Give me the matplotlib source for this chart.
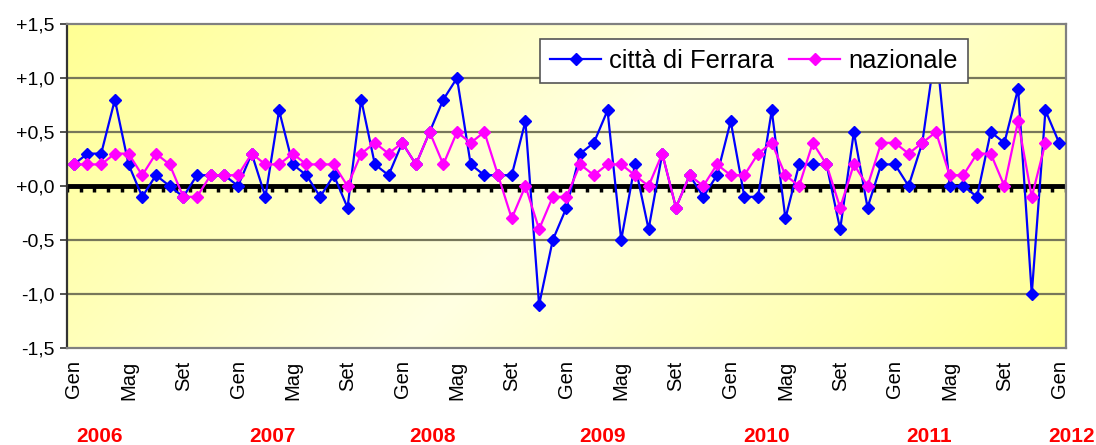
import numpy as np
import matplotlib.pyplot as plt
from matplotlib.colors import LinearSegmentedColormap
import matplotlib.transforms as mtransforms

plt.rcParams['font.family'] = ['Liberation Sans', 'DejaVu Sans']

# --- dati: variazione congiunturale mensile, Gen 2006 - Gen 2012 ---
ferrara = [0.2, 0.3, 0.3, 0.8, 0.2, -0.1, 0.1, 0.0, -0.1, 0.1, 0.1, 0.1,
           0.0, 0.3, -0.1, 0.7, 0.2, 0.1, -0.1, 0.1, -0.2, 0.8, 0.2, 0.1,
           0.4, 0.2, 0.5, 0.8, 1.0, 0.2, 0.1, 0.1, 0.1, 0.6, -1.1, -0.5,
           -0.2, 0.3, 0.4, 0.7, -0.5, 0.2, -0.4, 0.3, -0.2, 0.1, -0.1, 0.1,
           0.6, -0.1, -0.1, 0.7, -0.3, 0.2, 0.2, 0.2, -0.4, 0.5, -0.2, 0.2,
           0.2, 0.0, 0.4, 1.3, 0.0, 0.0, -0.1, 0.5, 0.4, 0.9, -1.0, 0.7,
           0.4]
nazionale = [0.2, 0.2, 0.2, 0.3, 0.3, 0.1, 0.3, 0.2, -0.1, -0.1, 0.1, 0.1,
             0.1, 0.3, 0.2, 0.2, 0.3, 0.2, 0.2, 0.2, 0.0, 0.3, 0.4, 0.3,
             0.4, 0.2, 0.5, 0.2, 0.5, 0.4, 0.5, 0.1, -0.3, 0.0, -0.4, -0.1,
             -0.1, 0.2, 0.1, 0.2, 0.2, 0.1, 0.0, 0.3, -0.2, 0.1, 0.0, 0.2,
             0.1, 0.1, 0.3, 0.4, 0.1, 0.0, 0.4, 0.2, -0.2, 0.2, 0.0, 0.4,
             0.4, 0.3, 0.4, 0.5, 0.1, 0.1, 0.3, 0.3, 0.0, 0.6, -0.1, 0.4,
             np.nan]
mesi = ['Gen', 'Mag', 'Set'] * 6 + ['Gen']
anni = ['2006', '2007', '2008', '2009', '2010', '2011', '2012']
anni_x = [1.9, 14.5, 26.2, 38.6, 50.6, 62.5, 72.9]
y_ticks = [-1.5, -1.0, -0.5, 0.0, 0.5, 1.0, 1.5]
y_labels = ['-1,5', '-1,0', '-0,5', '+0,0', '+0,5', '+1,0', '+1,5']

x = np.arange(len(ferrara))

fig = plt.figure(figsize=(10.96, 4.45), dpi=100)
ax = fig.add_axes([0.0611, 0.218, 0.9115, 0.728])

# sfondo a gradiente giallo
gx, gy = np.meshgrid(np.linspace(0, 1, 300), np.linspace(0, 1, 120))
s = (gx * 999 + gy * 324) / (999 + 324)
t = np.abs(s - 0.5) * 2
cmap = LinearSegmentedColormap.from_list('bg', ['#FFFFE2', '#FFFF94'])
ax.imshow(t, cmap=cmap, extent=[0, 1, 0, 1], transform=ax.transAxes,
          aspect='auto', zorder=0, origin='upper', interpolation='bilinear')

ax.set_xlim(-0.5, len(x) - 0.5)
ax.set_ylim(-1.5, 1.5)

for v in y_ticks[1:-1]:
    if v != 0:
        ax.axhline(v, color='#77775A', lw=1.6, zorder=1)

# asse dello zero con tacche
ax.axhline(0, color='black', lw=3.5, zorder=2)
ax.vlines(np.arange(-0.5, len(x)), -0.055, 0, color='black', lw=2.5, zorder=2)

ax.plot(x, ferrara, color='#0000FF', lw=1.6, marker='D', ms=6.5,
        label='città di Ferrara', zorder=3)
ax.plot(x, nazionale, color='#FF00FF', lw=1.6, marker='D', ms=6.5,
        label='nazionale', zorder=4)

ax.set_yticks(y_ticks)
ax.set_yticklabels(y_labels, fontsize=14)
ax.tick_params(axis='y', length=5, width=1.2, pad=4, color='#333333')
ax.set_xticks(x[::4])
ax.set_xticklabels(mesi, rotation=90, fontsize=14.5, va='top', ha='center')
ax.tick_params(axis='x', length=0, pad=9)

for side in ['top', 'right', 'bottom']:
    ax.spines[side].set_color('#808080')
    ax.spines[side].set_linewidth(1.6)
ax.spines['left'].set_color('#333333')
ax.spines['left'].set_linewidth(1.6)

leg = ax.legend(loc='upper left', bbox_to_anchor=(0.4735, 0.954), ncol=2,
                fontsize=18.4, fancybox=False, framealpha=1, edgecolor='#555555',
                handlelength=2.0, columnspacing=0.6, handletextpad=0.3,
                borderpad=0.4, borderaxespad=0)
leg.get_frame().set_linewidth(1.2)
leg.set_zorder(10)

trans = mtransforms.blended_transform_factory(ax.transData, fig.transFigure)
for xx, lab in zip(anni_x, anni):
    ax.text(xx, 1 - 437 / 445, lab, transform=trans, color='#FF0000',
            fontsize=15, fontweight='bold', ha='center', va='center',
            clip_on=False)

fig.savefig('out.png', dpi=100)
